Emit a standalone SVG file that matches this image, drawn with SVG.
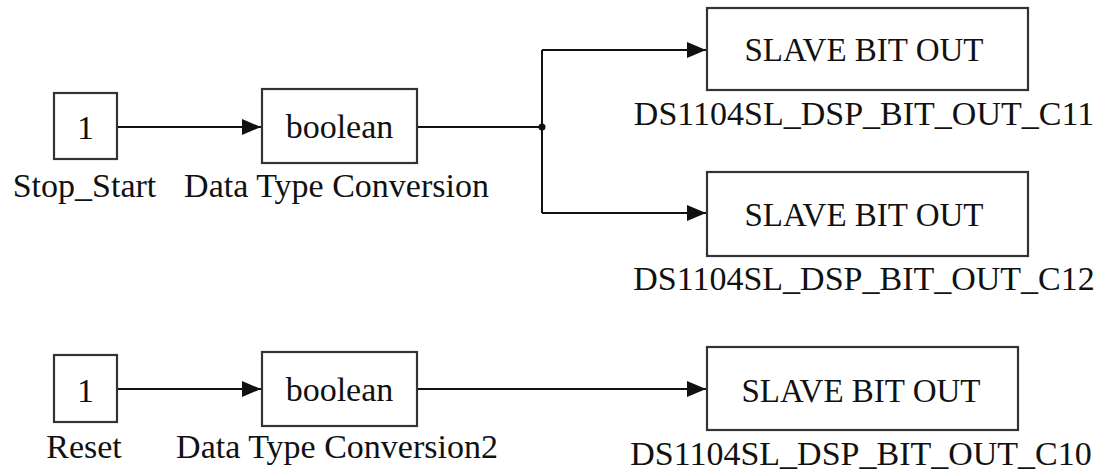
<svg xmlns="http://www.w3.org/2000/svg" width="1109" height="473" viewBox="0 0 1109 473">
<style>
.blk{fill:#fff;stroke:#333;stroke-width:2.2}
.t{font-family:'Liberation Serif','Times New Roman',Times,serif;font-size:34px;fill:#111}
.m{text-anchor:middle}
.w{fill:none;stroke:#111;stroke-width:2}
</style>
<defs>
<marker id="arr" markerUnits="userSpaceOnUse" markerWidth="20" markerHeight="16" refX="19" refY="8" orient="auto">
<path d="M0,0 L19,8 L0,16 z" fill="#111"/>
</marker>
</defs>
<rect width="1109" height="473" fill="#fff"/>
<g id="connectors">
<path class="w" d="M117,127 H261" marker-end="url(#arr)"/>
<path class="w" d="M417,127 H542"/>
<path class="w" d="M542,50 V213"/>
<path class="w" d="M542,50 H706" marker-end="url(#arr)"/>
<path class="w" d="M542,213 H706" marker-end="url(#arr)"/>
<circle cx="542" cy="127" r="3.5" fill="#111"/>
<path class="w" d="M117,389 H261" marker-end="url(#arr)"/>
<path class="w" d="M417,389 H706" marker-end="url(#arr)"/>
</g>
<g id="stop_start" font-family="Liberation Serif, serif">
<rect class="blk" x="54" y="93" width="63" height="66"/>
<text class="t m" x="85.5" y="139">1</text>
<text class="t m" x="84.5" y="197">Stop_Start</text>
</g>
<g id="dtc1" font-family="Liberation Serif, serif">
<rect class="blk" x="262" y="89" width="155" height="74"/>
<text class="t m" x="339.5" y="138">boolean</text>
<text class="t m" x="336.5" y="197">Data Type Conversion</text>
</g>
<g id="c11" font-family="Liberation Serif, serif">
<rect class="blk" x="707" y="8" width="321" height="82"/>
<text class="t m" x="864" y="61" style="font-size:33px">SLAVE BIT OUT</text>
<text class="t m" x="864" y="125">DS1104SL_DSP_BIT_OUT_C11</text>
</g>
<g id="c12" font-family="Liberation Serif, serif">
<rect class="blk" x="707" y="172" width="321" height="84"/>
<text class="t m" x="864" y="226" style="font-size:33px">SLAVE BIT OUT</text>
<text class="t m" x="864" y="290">DS1104SL_DSP_BIT_OUT_C12</text>
</g>
<g id="reset" font-family="Liberation Serif, serif">
<rect class="blk" x="54" y="355" width="63" height="67"/>
<text class="t m" x="85.5" y="402">1</text>
<text class="t m" x="84" y="458">Reset</text>
</g>
<g id="dtc2" font-family="Liberation Serif, serif">
<rect class="blk" x="262" y="352" width="155" height="74"/>
<text class="t m" x="339.5" y="401">boolean</text>
<text class="t m" x="337" y="458">Data Type Conversion2</text>
</g>
<g id="c10" font-family="Liberation Serif, serif">
<rect class="blk" x="707" y="347" width="311" height="83"/>
<text class="t m" x="861" y="402" style="font-size:33px">SLAVE BIT OUT</text>
<text class="t m" x="861" y="465">DS1104SL_DSP_BIT_OUT_C10</text>
</g>
</svg>
